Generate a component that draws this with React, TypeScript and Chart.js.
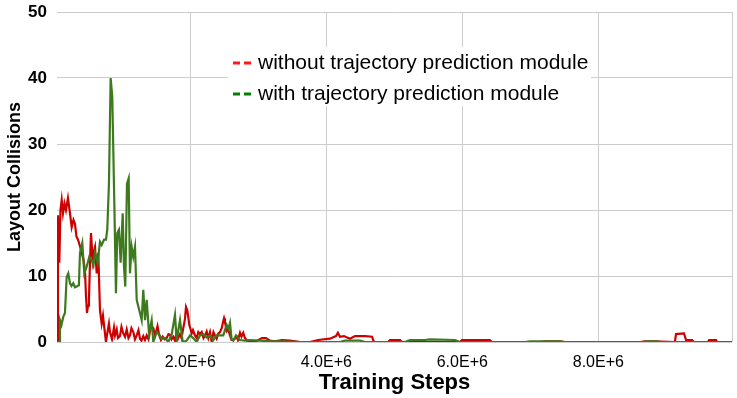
import React, { useEffect, useRef } from 'react';
import { Chart, registerables } from 'chart.js';

Chart.register(...registerables);

// Training steps (in millions) and layout collisions for each series
const RED_STEPS_M = [0.040,0.054,0.074,0.091,0.109,0.128,0.150,0.172,0.201,0.231,
0.256,0.282,0.304,0.326,0.349,0.378,0.403,0.429,0.451,0.466,
0.481,0.496,0.510,0.525,0.540,0.565,0.584,0.599,0.624,0.647,
0.672,0.697,0.716,0.731,0.760,0.782,0.804,0.819,0.849,0.878,
0.893,0.918,0.937,0.966,0.988,1.015,1.040,1.065,1.091,1.113,
1.135,1.162,1.187,1.212,1.238,1.260,1.282,1.309,1.334,1.359,
1.385,1.407,1.429,1.456,1.481,1.496,1.518,1.544,1.569,1.594,
1.621,1.653,1.679,1.701,1.724,1.750,1.775,1.800,1.819,1.849,
1.871,1.897,1.922,1.937,1.956,1.974,1.985,2.003,2.021,2.040,
2.069,2.094,2.118,2.143,2.168,2.194,2.216,2.241,2.265,2.290,
2.315,2.341,2.363,2.388,2.412,2.437,2.462,2.481,2.496,2.510,
2.535,2.554,2.584,2.607,2.632,2.657,2.682,2.701,2.731,2.753,
2.779,2.804,2.834,2.878,2.951,3.054,3.113,3.171,3.246,3.349,
3.466,3.613,3.760,3.879,4.054,4.143,4.171,4.201,4.260,4.349,
4.422,4.569,4.672,4.701,4.910,4.937,5.084,5.113,5.966,5.996,
6.404,6.434,7.140,7.213,7.434,7.509,8.613,8.686,8.831,9.126,
9.143,9.260,9.290,9.379,9.407,9.613,9.628,9.732,9.746,9.963];

const RED_VALUES = [0,19.2,12,20,21.5,19.5,21,20,21.8,19.5,
17.4,18.5,17.9,16,15.5,14.5,13.5,12.5,10.9,7,
4.4,5.5,6.4,12,16.5,12.4,13.8,14.4,10.4,13.5,
4.8,2.8,4,2.6,0,1.5,2.8,1.5,0.4,2.2,
1.0,1.9,0.6,0.9,2.3,1.3,0.8,1.9,0.6,1.0,
2.1,1.5,0.4,1.0,1.8,0.5,0.2,0.9,0.3,1.0,
0.4,1.6,2.4,2.1,1.0,1.5,2.4,1.0,0.3,0.8,
0.4,0.6,1.2,1.1,0.4,0.8,0.2,1.5,0.5,1.2,
0.6,2.1,3.5,5.3,4.8,3.5,2.6,2.0,1.3,1.8,
1.0,0.6,1.5,1.2,1.5,0.6,1.0,1.6,0.6,1.5,
0,1.5,1.0,0.5,1.3,1.5,2.1,3.0,3.6,3.0,
1.7,2.0,1.0,0.3,0.3,0.5,0.8,0.3,1.4,0.8,
1.4,0.6,0.2,0.1,0,0.6,0.6,0.2,0.1,0.3,
0.2,0,0,0.3,0.5,0.9,1.4,0.8,0.9,0.5,
0.9,0.9,0.8,0,0,0.3,0.3,0,0,0.3,
0.3,0,0,0.1,0.1,0,0,0.1,0.1,0,
1.2,1.3,0.3,0.3,0,0,0.3,0.3,0,0];

const GREEN_STEPS_M = [0.040,0.076,0.084,0.106,0.132,0.157,0.182,0.206,0.231,0.253,
0.279,0.304,0.329,0.356,0.363,0.378,0.412,0.441,0.476,0.515,
0.550,0.576,0.599,0.638,0.672,0.697,0.731,0.760,0.779,0.804,
0.829,0.853,0.882,0.907,0.926,0.951,0.976,1.006,1.025,1.044,
1.069,1.094,1.113,1.138,1.162,1.187,1.212,1.250,1.285,1.309,
1.334,1.359,1.393,1.432,1.456,1.506,1.544,1.579,1.628,1.676,
1.726,1.775,1.800,1.849,1.888,1.947,1.996,2.044,2.094,2.143,
2.187,2.241,2.290,2.338,2.388,2.437,2.485,2.535,2.562,2.584,
2.607,2.632,2.672,2.731,2.804,2.878,3.026,3.171,3.318,3.613,
4.201,4.274,4.496,4.569,5.157,5.231,5.451,5.524,5.893,5.966,
6.922,6.996,7.434,7.509,8.656,8.729,8.876,8.904,9.963];

const GREEN_VALUES = [0,0,3.3,2.6,3.8,4.4,9.8,10.4,8.9,8.5,
8.9,8.3,8.4,8.6,8.9,13.5,15,10.4,11.4,12.9,
12.4,11.6,13.5,12,15.2,14.7,15.5,15.5,17,24,
40,37.1,21.5,7.4,16.5,17,12,19.5,11.5,8.4,
24,24.8,10.4,14.4,12.9,14.4,6.4,4.8,3.3,7.9,
3.3,6.4,1.3,3.3,0,1.5,1.1,0.5,0.6,0,
1.1,4.1,0.3,3.3,0,0.2,1.0,0.6,0,1.0,
1.2,0.7,1.0,0.3,1.0,1.0,1.0,2.6,2.0,2.9,
0.5,0.2,1.0,0.3,0.2,0.3,0.2,0.1,0.1,0,
0,0.2,0.2,0,0,0.3,0.3,0.4,0.3,0,
0,0.1,0.1,0,0,0.1,0.1,0,0];

const X_TICKS = [2e6, 4e6, 6e6, 8e6];
const X_TICK_LABELS = ['2.0E+6', '4.0E+6', '6.0E+6', '8.0E+6'];
const X_MIN = 40000;
const X_MAX = 9966000;
const SERIES_LABELS = ['without trajectory prediction module', 'with trajectory prediction module'];
const LEGEND_COLORS = ['#ff1a1a', '#008000'];

const toPoints = (steps: number[], vals: number[]) =>
  steps.map((s, i) => ({ x: s * 1e6, y: vals[i] }));

const FONT = '"Liberation Sans", Arial, sans-serif';

const insideLegend = {
  id: 'insideLegend',
  afterDraw(chart: any) {
    const ctx = chart.ctx as CanvasRenderingContext2D;
    ctx.save();
    ctx.fillStyle = '#ffffff';
    ctx.fillRect(228, 47, 363, 59);
    const rows = [63, 94];
    SERIES_LABELS.forEach((label, i) => {
      const y = rows[i];
      ctx.strokeStyle = LEGEND_COLORS[i];
      ctx.lineWidth = 3;
      ctx.setLineDash([7, 4]);
      ctx.beginPath();
      ctx.moveTo(233, y);
      ctx.lineTo(251, y);
      ctx.stroke();
      ctx.setLineDash([]);
      ctx.fillStyle = '#000000';
      ctx.font = `21px ${FONT}`;
      ctx.textBaseline = 'middle';
      ctx.textAlign = 'left';
      ctx.fillText(label, 258, y);
    });
    ctx.restore();
  },
};

export default function App() {
  const ref = useRef<HTMLCanvasElement | null>(null);

  useEffect(() => {
    document.body.style.margin = '0';
    if (!ref.current) return;
    Chart.defaults.font.family = FONT;
    const chart = new Chart(ref.current, {
      type: 'line',
      data: {
        datasets: [
          {
            label: SERIES_LABELS[1],
            data: toPoints(GREEN_STEPS_M, GREEN_VALUES),
            borderColor: '#3d7a1e',
            borderWidth: 2.2,
            pointRadius: 0,
            tension: 0,
            order: 0,
          },
          {
            label: SERIES_LABELS[0],
            data: toPoints(RED_STEPS_M, RED_VALUES),
            borderColor: '#cc0000',
            borderWidth: 2.2,
            pointRadius: 0,
            tension: 0,
            order: 1,
          },
        ],
      },
      options: {
        responsive: false,
        animation: false,
        layout: { padding: { top: 12, right: 5, left: 0, bottom: 0 } },
        plugins: { legend: { display: false }, tooltip: { enabled: false } },
        scales: {
          x: {
            type: 'linear',
            min: X_MIN,
            max: X_MAX,
            afterBuildTicks: (scale: any) => {
              scale.ticks = [...X_TICKS, X_MAX].map((v) => ({ value: v }));
            },
            afterFit: (scale: any) => {
              scale.height = 56;
              scale.paddingLeft = 0;
              scale.paddingRight = 0;
            },
            border: { display: false },
            grid: { color: '#cccccc', drawTicks: false, lineWidth: 1 },
            ticks: {
              padding: 11,
              color: '#000000',
              font: { size: 16 },
              maxRotation: 0,
              autoSkip: false,
              callback: (v: any) => {
                const i = X_TICKS.indexOf(Number(v));
                return i >= 0 ? X_TICK_LABELS[i] : '';
              },
            },
            title: {
              display: true,
              text: 'Training Steps',
              color: '#000000',
              font: { size: 22, weight: 'bold' },
              padding: { top: 0, bottom: 2 },
            },
          },
          y: {
            min: 0,
            max: 50,
            afterFit: (scale: any) => {
              scale.width = 57;
              scale.paddingTop = 0;
              scale.paddingBottom = 0;
            },
            border: { display: false },
            grid: { color: '#cccccc', drawTicks: false, lineWidth: 1 },
            ticks: {
              stepSize: 10,
              padding: 10,
              color: '#000000',
              font: { size: 17, weight: 'bold' },
            },
            title: {
              display: true,
              text: 'Layout Collisions',
              color: '#000000',
              font: { size: 18, weight: 'bold' },
              padding: { top: 4, bottom: 0 },
            },
          },
        },
      },
      plugins: [insideLegend],
    } as any);
    return () => chart.destroy();
  }, []);

  return <canvas ref={ref} width={737} height={398} style={{ display: 'block' }} />;
}
